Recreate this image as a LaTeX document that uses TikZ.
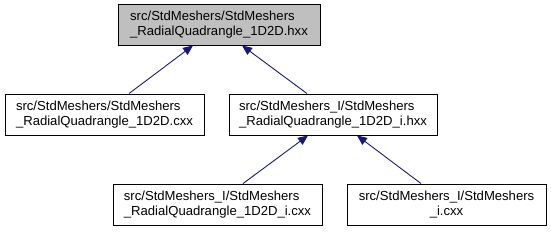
\documentclass[tikz,border=0pt]{standalone}
\usepackage{fontspec}
\setmainfont{Liberation Sans}
\usetikzlibrary{arrows.meta}
\definecolor{edgeblue}{HTML}{191970}
\definecolor{topgray}{HTML}{BFBFBF}
\begin{document}
\begin{tikzpicture}[
  x=1pt, y=-1pt,
  file/.style={rectangle, draw, line width=0.9pt, fill=#1, minimum height=41pt,
               inner sep=2pt, font=\fontsize{13.1}{15}\selectfont, align=left},
  file/.default=white,
  arr/.style={-{Triangle[length=10pt,width=8.5pt]}, edgeblue, line width=0.9pt}
]
  \useasboundingbox (0,0) rectangle (551,231);

  \node[file=topgray, minimum width=202pt] (top) at (219,24.5) {src/StdMeshers/StdMeshers\\\_RadialQuadrangle\_1D2D.hxx};
  \node[file, minimum width=199pt] (cxx) at (104.5,114.5) {src/StdMeshers/StdMeshers\\\_RadialQuadrangle\_1D2D.cxx};
  \node[file, minimum width=208pt] (ihxx) at (333,114.5) {src/StdMeshers\_I/StdMeshers\\\_RadialQuadrangle\_1D2D\_i.hxx};
  \node[file, minimum width=209pt] (icxx) at (217.5,204.5) {src/StdMeshers\_I/StdMeshers\\\_RadialQuadrangle\_1D2D\_i.cxx};
  \node[file, minimum width=199pt, align=center] (smi) at (446.5,204.5) {src/StdMeshers\_I/StdMeshers\\\_i.cxx};

  % includes
  \draw[arr] ([xshift=24.5pt]cxx.north) -- ([xshift=-26pt]top.south);
  \draw[arr] ([xshift=-26pt]ihxx.north) -- ([xshift=23pt]top.south);
  \draw[arr] ([xshift=25.5pt]icxx.north) -- ([xshift=-25pt]ihxx.south);
  \draw[arr] ([xshift=-25.5pt]smi.north) -- ([xshift=24pt]ihxx.south);
\end{tikzpicture}
\end{document}
